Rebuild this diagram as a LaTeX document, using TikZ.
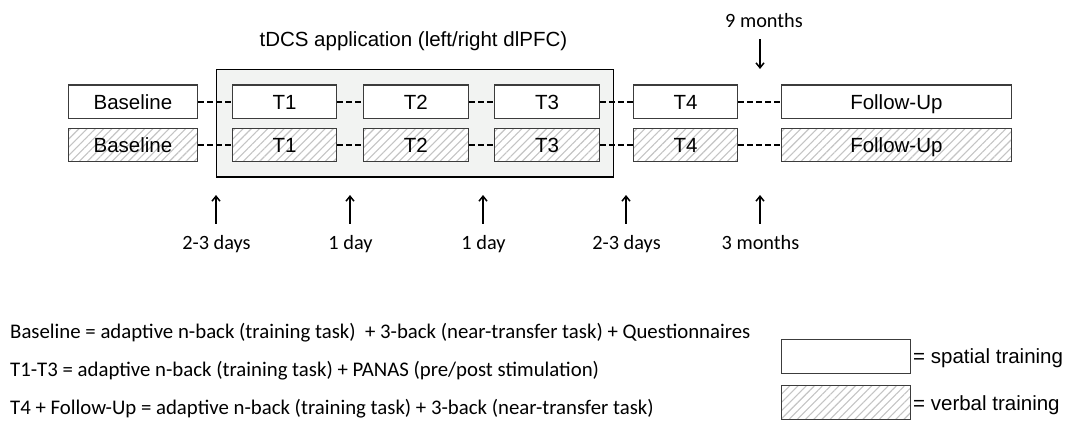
\documentclass[tikz,border=0pt]{standalone}
\usepackage{fontspec}
\setmainfont{Liberation Sans}
\newfontfamily\carl{Carlito}
\usetikzlibrary{patterns.meta,arrows.meta}
\definecolor{boxline}{HTML}{3C3C3C}
\definecolor{hatchc}{HTML}{C4C4C4}
\definecolor{tdcsfill}{HTML}{F2F3F2}
\tikzset{
  arialtxt/.style={font=\fontsize{20.5}{24}\selectfont},
  carltxt/.style={font=\carl\fontsize{20.3}{24}\selectfont},
  desctxt/.style={font=\carl\fontsize{20.8}{24}\selectfont},
  sbox/.style={draw=boxline, line width=1.1pt, fill=white, inner sep=0pt, arialtxt,
     text height=14.7pt, text depth=0pt, minimum height=33.4pt},
  vbox/.style={sbox, fill=none, preaction={fill=white},
     pattern={Lines[angle=45,distance=5.8pt,line width=1.1pt]}, pattern color=hatchc},
  conn/.style={draw=black, line width=1.6pt, dash pattern=on 6pt off 3pt},
  uparr/.style={draw=black, line width=1.5pt, -{Straight Barb[length=5pt,width=8pt]}},
}
\begin{document}
\begin{tikzpicture}[x=1pt,y=-1pt]
\useasboundingbox (0,0) rectangle (1069,421);
% tDCS box
\node[draw=black, line width=1.6pt, fill=tdcsfill, minimum width=396.9pt, minimum height=107.4pt, inner sep=0pt] (tdcs) at (414.85,123) {};
\node[arialtxt, anchor=base] (title) at (413.4,46.7) {tDCS application (left/right dlPFC)};
% row 1 (spatial)
\node[sbox, minimum width=129.6pt] (b1) at (132.9,101.7) {Baseline};
\node[sbox, minimum width=104.7pt] (t11) at (284.5,101.7) {T1};
\node[sbox, minimum width=104.7pt] (t21) at (415.9,101.7) {T2};
\node[sbox, minimum width=104.7pt] (t31) at (547,101.7) {T3};
\node[sbox, minimum width=104.4pt] (t41) at (685.5,101.7) {T4};
\node[sbox, minimum width=230.7pt] (f1) at (896.4,101.7) {Follow-Up};
% row 2 (verbal)
\node[vbox, minimum width=129.6pt] (b2) at (132.9,145) {Baseline};
\node[vbox, minimum width=104.7pt] (t12) at (284.5,145) {T1};
\node[vbox, minimum width=104.7pt] (t22) at (415.9,145) {T2};
\node[vbox, minimum width=104.7pt] (t32) at (547,145) {T3};
\node[vbox, minimum width=104.4pt] (t42) at (685.5,145) {T4};
\node[vbox, minimum width=230.7pt] (f2) at (896.4,145) {Follow-Up};
% connectors
\foreach \a/\b in {b1/t11,t11/t21,t21/t31,t31/t41,t41/f1,b2/t12,t12/t22,t22/t32,t32/t42,t42/f2}
  \draw[conn] (\a.east) -- (\b.west);
% 9 months
\node[carltxt, anchor=base] (nine) at (764,27.5) {9 months};
\coordinate (n9s) at (760,39);
\coordinate (n9e) at (760,69);
\draw[uparr] (n9s) -- (n9e);
% bottom arrows
\foreach \i/\x/\t in {1/216/2-3 days,2/350/1 day,3/483/1 day,4/626/2-3 days,5/760/3 months}{
  \coordinate (as\i) at (\x,223.5);
  \coordinate (ae\i) at (\x,195);
  \draw[uparr] (as\i) -- (ae\i);
  \node[carltxt, anchor=base] (lab\i) at (\x+0.5,249) {\t};
}
% description lines
\node[desctxt, anchor=base west, inner sep=0pt] (d1) at (10,338) {Baseline = adaptive n-back (training task)~ + 3-back (near-transfer task) + Questionnaires};
\node[desctxt, anchor=base west, inner sep=0pt] (d2) at (10,376) {T1-T3 = adaptive n-back (training task) + PANAS (pre/post stimulation)};
\node[desctxt, anchor=base west, inner sep=0pt] (d3) at (10,414) {T4 + Follow-Up = adaptive n-back (training task) + 3-back (near-transfer task)};
% legend
\node[sbox, minimum width=129pt, minimum height=34pt] (ls) at (846.2,356.3) {};
\node[vbox, minimum width=129pt, minimum height=34pt] (lv) at (846.2,402.6) {};
\node[arialtxt, anchor=base west, inner sep=0pt] (lst) at (913,363.6) {= spatial training};
\node[arialtxt, anchor=base west, inner sep=0pt] (lvt) at (913,410) {= verbal training};
\end{tikzpicture}
\end{document}
